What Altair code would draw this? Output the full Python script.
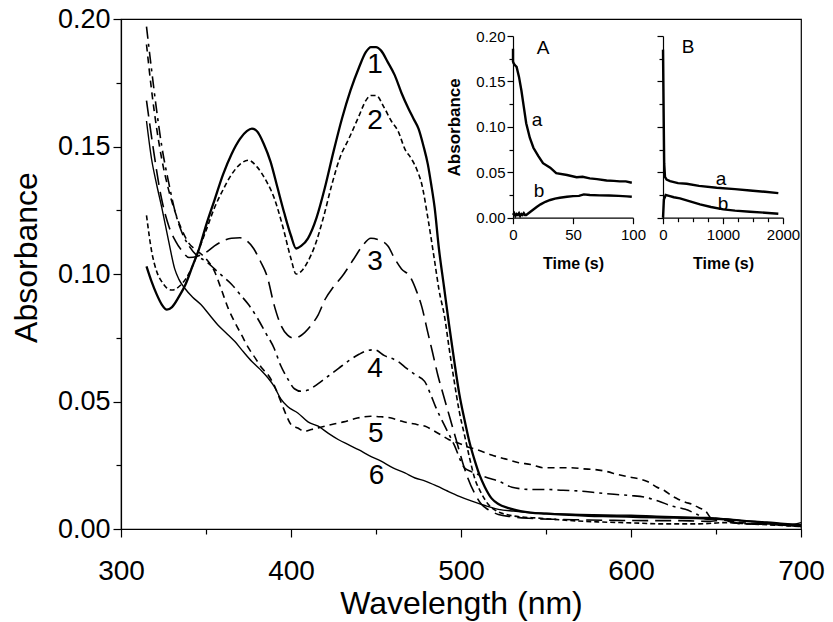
import altair as alt
import pandas as pd

FONT = "Liberation Sans"

# ---------------- main spectra (wavelength nm, absorbance) ----------------
c1_nm = [315, 318, 321, 324, 327, 330, 334, 338, 342, 346, 350, 355, 360, 365, 370, 374, 377, 380, 384, 388,
         392, 396, 400, 403, 406, 410, 415, 420, 425, 430, 435, 440, 444, 447, 450, 453, 457, 461, 465, 469,
         472, 475, 478, 480.5, 482.5, 484.5, 487, 490, 493, 496, 499, 502, 505, 508, 511, 514, 518, 522, 528,
         535, 541, 550, 560, 575, 590, 605, 620, 635, 650, 660, 670, 680, 690, 700]
c1_abs = [0.103, 0.097, 0.092, 0.088, 0.086, 0.087, 0.091, 0.096, 0.103, 0.110, 0.119, 0.129, 0.139, 0.147,
          0.153, 0.156, 0.157, 0.156, 0.151, 0.144, 0.134, 0.124, 0.115, 0.110, 0.111, 0.114, 0.122, 0.134,
          0.148, 0.161, 0.172, 0.181, 0.187, 0.189, 0.189, 0.1876, 0.183, 0.178, 0.171, 0.165, 0.161, 0.157,
          0.150, 0.143, 0.135, 0.126, 0.110, 0.095, 0.080, 0.066, 0.053, 0.043, 0.034, 0.027, 0.021, 0.0165,
          0.012, 0.0098, 0.0082, 0.007, 0.0064, 0.006, 0.0056, 0.0052, 0.005, 0.0047, 0.0045, 0.0043, 0.004,
          0.0036, 0.003, 0.0026, 0.002, 0.0015]

c2_nm = [315, 318, 321, 324, 327, 330, 334, 338, 342, 346, 350, 355, 360, 365, 370, 375, 380, 385, 390, 395,
         400, 403, 406, 410, 414, 419, 424, 429, 434, 440, 444, 447, 450, 455, 459, 463, 467, 471, 474, 477,
         480.5, 484.5, 487, 490.4, 493, 496, 499, 502, 505, 508, 512, 516, 521, 528, 536, 545, 560, 580, 600,
         620, 640, 655, 670, 685, 700]
c2_abs = [0.123, 0.109, 0.101, 0.097, 0.0945, 0.0937, 0.095, 0.098, 0.103, 0.110, 0.117, 0.126, 0.133, 0.139,
          0.143, 0.1446, 0.142, 0.137, 0.130, 0.119, 0.106, 0.100, 0.101, 0.105, 0.111, 0.122, 0.135, 0.146,
          0.153, 0.162, 0.168, 0.170, 0.170, 0.165, 0.160, 0.156, 0.149, 0.145, 0.141, 0.135, 0.122, 0.105,
          0.094, 0.083, 0.071, 0.058, 0.046, 0.037, 0.028, 0.020, 0.014, 0.0097, 0.007, 0.0055, 0.0047, 0.0043,
          0.0035, 0.0028, 0.0024, 0.002, 0.002, 0.0025, 0.002, 0.0015, 0.001]

c3_nm = [315, 318.8, 323.7, 328, 332, 336, 340, 345, 350, 355, 360, 365, 370, 374, 378, 382, 386, 390, 394,
         398, 402, 405, 408, 412, 416, 420, 425, 430, 437, 442, 447, 451, 457, 461, 465, 470, 474, 477, 480.5,
         483, 486.5, 489, 492, 495, 498, 501, 504, 508, 512, 517, 522, 530, 540, 555, 570, 590, 610, 630, 645,
         655, 665, 680, 690, 700]
c3_abs = [0.168, 0.150, 0.130, 0.119, 0.113, 0.109, 0.1065, 0.107, 0.1085, 0.111, 0.113, 0.114, 0.1142, 0.113,
          0.110, 0.105, 0.099, 0.088, 0.080, 0.076, 0.0748, 0.0755, 0.077, 0.080, 0.084, 0.090, 0.095, 0.099,
          0.106, 0.111, 0.114, 0.1135, 0.111, 0.106, 0.102, 0.099, 0.093, 0.087, 0.077, 0.070, 0.060, 0.054,
          0.047, 0.040, 0.033, 0.026, 0.020, 0.014, 0.0097, 0.0072, 0.0057, 0.0048, 0.0042, 0.0038, 0.0036,
          0.0034, 0.0033, 0.0033, 0.003, 0.0035, 0.002, 0.0018, 0.0015, 0.001]

c4_nm = [315, 318, 321, 324, 328, 332, 336, 340, 345, 350, 355, 360, 365, 370, 375, 380, 385, 390, 394, 398,
         402, 406, 410, 416, 422, 428, 434, 440, 445, 449, 455, 463, 468, 473, 478.6, 482, 485, 490, 496, 502,
         506, 510, 516, 522, 530, 541, 550, 560, 570, 580, 590, 600, 608, 616, 624, 632, 639, 645, 652, 660,
         670, 680, 690, 700]
c4_abs = [0.197, 0.180, 0.164, 0.150, 0.136, 0.124, 0.116, 0.111, 0.107, 0.105, 0.102, 0.099, 0.096, 0.092,
          0.088, 0.083, 0.077, 0.071, 0.064, 0.059, 0.055, 0.054, 0.0545, 0.057, 0.060, 0.063, 0.066, 0.0685,
          0.070, 0.0703, 0.068, 0.0657, 0.063, 0.0605, 0.0579, 0.053, 0.048, 0.041, 0.033, 0.024, 0.0225,
          0.0214, 0.020, 0.0188, 0.0164, 0.0155, 0.0155, 0.0152, 0.0149, 0.0142, 0.0136, 0.0131, 0.0125, 0.011,
          0.009, 0.0077, 0.0057, 0.0038, 0.004, 0.0025, 0.002, 0.0022, 0.0015, 0.001]

c5_nm = [315, 318, 321, 324, 328, 332, 336, 340, 345, 350, 355, 359, 363, 367, 371, 375, 379, 383, 387, 391,
         394, 397, 400, 404, 408, 412, 418, 424, 431, 439, 447, 453, 459, 464, 469, 474, 479, 484, 488, 493,
         498, 504, 510, 518, 526, 534, 541, 549, 557, 565, 572, 579, 586, 592, 598, 604, 610, 615, 620, 624,
         628, 632, 636, 640, 644, 647, 652, 660, 670, 680, 690, 700]
c5_abs = [0.190, 0.172, 0.157, 0.145, 0.133, 0.124, 0.117, 0.112, 0.109, 0.106, 0.101, 0.094, 0.0866, 0.081,
          0.076, 0.071, 0.067, 0.063, 0.060, 0.055, 0.050, 0.045, 0.041, 0.0396, 0.0383, 0.039, 0.040, 0.041,
          0.042, 0.0435, 0.0442, 0.044, 0.0435, 0.0425, 0.0416, 0.041, 0.0403, 0.0385, 0.037, 0.035, 0.0338,
          0.0322, 0.031, 0.029, 0.0275, 0.026, 0.0253, 0.024, 0.024, 0.024, 0.0236, 0.0233, 0.0225, 0.0214,
          0.0205, 0.0198, 0.0185, 0.0165, 0.0149, 0.013, 0.0116, 0.0105, 0.0097, 0.0083, 0.007, 0.0044, 0.004,
          0.003, 0.0022, 0.002, 0.0015, 0.001]

c6_nm = [315, 318, 321, 324, 328, 331.6, 334, 337.5, 342, 347, 352, 357, 362, 367, 372, 377, 382, 386.5, 390,
         394, 398, 404, 410, 416, 422, 428, 434, 440, 446, 453, 460, 467, 473, 479, 486, 492, 499, 506, 514,
         522, 531, 541, 555, 570, 585, 600, 615, 630, 645, 655, 665, 675, 685, 695, 700]
c6_abs = [0.160, 0.145, 0.135, 0.126, 0.113, 0.102, 0.098, 0.0944, 0.091, 0.088, 0.084, 0.080, 0.0768, 0.0735,
          0.0695, 0.0657, 0.0625, 0.0592, 0.056, 0.051, 0.048, 0.0455, 0.042, 0.0403, 0.0375, 0.035, 0.033,
          0.031, 0.0288, 0.0266, 0.024, 0.022, 0.020, 0.0188, 0.0168, 0.0149, 0.0128, 0.011, 0.0092, 0.0077,
          0.007, 0.0064, 0.006, 0.0057, 0.0055, 0.0054, 0.005, 0.0047, 0.0045, 0.004, 0.0033, 0.0028, 0.0022,
          0.0018, 0.0025]

curve_labels = ["1", "2", "3", "4", "5", "6"]
label_nm = [449.4, 449.4, 449.4, 449.4, 449.8, 450.3]
label_abs = [0.182, 0.160, 0.1048, 0.0626, 0.0372, 0.0207]

# ---------------- inset A (time s, absorbance) ----------------
a_t = [0, 0, 0.5, 1.5, 3, 5, 7, 9, 11, 14, 17, 21, 25, 31, 36, 45, 53, 58, 64, 70, 78, 84, 89, 94, 99]
a_abs = [0.186, 0.172, 0.170, 0.168, 0.166, 0.155, 0.140, 0.122, 0.104, 0.088, 0.077, 0.068, 0.060, 0.055,
         0.049, 0.047, 0.0445, 0.045, 0.0433, 0.0425, 0.041, 0.0405, 0.040, 0.040, 0.0385]
b_t = [0, 1, 2, 3, 4, 5, 6, 7, 8, 9, 10, 11, 14, 17, 20, 23, 27, 31, 35, 39, 45, 50, 55, 59, 64, 72, 80, 88,
       95, 99]
b_abs = [0.003, 0.005, 0.002, 0.004, 0.003, 0.005, 0.002, 0.004, 0.003, 0.005, 0.003, 0.003, 0.006, 0.009,
         0.012, 0.0147, 0.0175, 0.0195, 0.021, 0.022, 0.023, 0.0238, 0.024, 0.0257, 0.025, 0.0246, 0.0245,
         0.024, 0.0235, 0.023]

# ---------------- inset B ----------------
ba_t = [0, 10, 20, 33, 60, 117, 250, 395, 600, 895, 1200, 1450, 1700, 1922]
ba_abs = [0.185, 0.12, 0.06, 0.045, 0.042, 0.0403, 0.038, 0.0374, 0.035, 0.033, 0.0315, 0.030, 0.0285, 0.027]
bb_t = [0, 15, 45, 100, 180, 283, 450, 617, 800, 1006, 1200, 1450, 1700, 1922]
bb_abs = [0.0, 0.02, 0.025, 0.024, 0.0225, 0.0213, 0.018, 0.0147, 0.0118, 0.0092, 0.0078, 0.0066, 0.0055,
          0.0044]

insetA_text = ["A", "a", "b"]
insetA_text_t = [25, 20, 21.7]
insetA_text_abs = [0.1865, 0.108, 0.029]
insetB_text = ["B", "a", "b"]
insetB_text_t = [417, 967, 1000]
insetB_text_abs = [0.1875, 0.0425, 0.015]

# ---------------- axes / scales ----------------
y_ticks = [0, 0.025, 0.05, 0.075, 0.1, 0.125, 0.15, 0.175, 0.2]
y_major_test = "abs(datum.value*20 - round(datum.value*20)) < 0.001"

X_MAIN = alt.X(
    "nm:Q",
    scale=alt.Scale(domain=[300, 700], nice=False, zero=False),
    axis=alt.Axis(
        orient="bottom", values=list(range(300, 701, 50)), format="d", labelFlush=False,
        labelExpr="datum.value % 100 === 0 ? datum.label : ''",
        tickSize={"condition": {"test": "datum.value % 100 === 0", "value": 8}, "value": 5},
        labelFontSize=28, labelPadding=20, title="Wavelength (nm)", titleFontSize=32,
        titleFontWeight="normal", titlePadding=3, grid=False,
    ),
)
Y_MAIN = alt.Y(
    "abs:Q",
    scale=alt.Scale(domain=[0, 0.2], nice=False, zero=False),
    axis=alt.Axis(
        orient="left", values=y_ticks, labelFlush=False,
        labelExpr=y_major_test + " ? format(datum.value, '.2f') : ''",
        tickSize={"condition": {"test": y_major_test, "value": 8}, "value": 5},
        labelFontSize=27, labelPadding=3, title="Absorbance", titleFontSize=32,
        titleFontWeight="normal", titlePadding=14, titleY=238, grid=False,
    ),
)


def spectrum(nm, ab, width, dash=None):
    df = pd.DataFrame({"nm": nm, "abs": ab})
    kw = dict(color="black", strokeWidth=width, interpolate="monotone")
    if dash is not None:
        kw["strokeDash"] = dash
    return alt.Chart(df).mark_line(**kw).encode(x=X_MAIN, y=Y_MAIN)


main_labels = alt.Chart(pd.DataFrame({"nm": label_nm, "abs": label_abs, "lab": curve_labels})).mark_text(
    font=FONT, fontSize=28, color="black", baseline="middle", align="center"
).encode(x=X_MAIN, y=Y_MAIN, text="lab:N")

main = alt.layer(
    spectrum(c6_nm, c6_abs, 1.4),
    spectrum(c5_nm, c5_abs, 1.6, [7, 5]),
    spectrum(c4_nm, c4_abs, 1.6, [12, 5, 3, 5]),
    spectrum(c3_nm, c3_abs, 1.6, [16, 7]),
    spectrum(c2_nm, c2_abs, 1.6, [5, 3]),
    spectrum(c1_nm, c1_abs, 2.3),
    main_labels,
)

INSET_Y_RANGE = [198.7, 17]
inset_y_scale = alt.Scale(domain=[0, 0.2], range=INSET_Y_RANGE, nice=False, zero=False)

XA = alt.X(
    "t:Q",
    scale=alt.Scale(domain=[0, 100], range=[392, 512], nice=False, zero=False),
    axis=alt.Axis(orient="bottom", offset=-311.3, values=[0, 50, 100], tickSize=6, labelFontSize=15,
                  labelFlush=False, labelPadding=4, title="Time (s)", titleFontSize=16,
                  titleFontWeight="bold", titlePadding=13, grid=False),
)
YA = alt.Y(
    "abs:Q", scale=inset_y_scale,
    axis=alt.Axis(orient="left", offset=-392, values=y_ticks, labelFlush=False,
                  labelExpr=y_major_test + " ? format(datum.value, '.2f') : ''",
                  tickSize={"condition": {"test": y_major_test, "value": 6}, "value": 4},
                  labelFontSize=15, labelPadding=2, title="Absorbance", titleFontSize=17,
                  titleFontWeight="bold", titlePadding=12, grid=False),
)
XB = alt.X(
    "t:Q",
    scale=alt.Scale(domain=[0, 2000], range=[542, 662], nice=False, zero=False),
    axis=alt.Axis(orient="bottom", offset=-311.3, values=list(range(0, 2001, 250)), format="d",
                  labelFlush=False, labelExpr="datum.value % 1000 === 0 ? datum.label : ''",
                  tickSize={"condition": {"test": "datum.value % 1000 === 0", "value": 6}, "value": 4},
                  labelFontSize=15, labelPadding=4, title="Time (s)", titleFontSize=16,
                  titleFontWeight="bold", titlePadding=13, grid=False),
)
YB = alt.Y(
    "abs:Q", scale=inset_y_scale,
    axis=alt.Axis(orient="left", offset=-542, values=y_ticks, labels=False, title=None,
                  tickSize={"condition": {"test": y_major_test, "value": 6}, "value": 4}, grid=False),
)


def trace(t, ab, X, Y):
    return alt.Chart(pd.DataFrame({"t": t, "abs": ab})).mark_line(
        color="black", strokeWidth=2.4, interpolate="linear"
    ).encode(x=X, y=Y)


def tags(txt, t, ab, X, Y):
    return alt.Chart(pd.DataFrame({"t": t, "abs": ab, "lab": txt})).mark_text(
        font=FONT, fontSize=19, color="black", baseline="middle", align="center"
    ).encode(x=X, y=Y, text="lab:N")


insetA = alt.layer(trace(a_t, a_abs, XA, YA), trace(b_t, b_abs, XA, YA),
                   tags(insetA_text, insetA_text_t, insetA_text_abs, XA, YA))
insetB = alt.layer(trace(ba_t, ba_abs, XB, YB), trace(bb_t, bb_abs, XB, YB),
                   tags(insetB_text, insetB_text_t, insetB_text_abs, XB, YB))

chart = alt.layer(main, insetA, insetB).resolve_scale(
    x="independent", y="independent"
).properties(
    width=680, height=510,
    autosize=alt.AutoSizeParams(type="none"),
    padding={"left": 113, "top": 11, "right": 24, "bottom": 93},
).configure(font=FONT).configure_view(
    stroke="black", strokeWidth=1.2
).configure_axis(
    labelFont=FONT, titleFont=FONT, labelColor="black", titleColor="black",
    tickColor="black", domainColor="black", tickWidth=1.2, domainWidth=1.2,
)

chart.save("out.html", embed_options={"renderer": "svg", "actions": False})
